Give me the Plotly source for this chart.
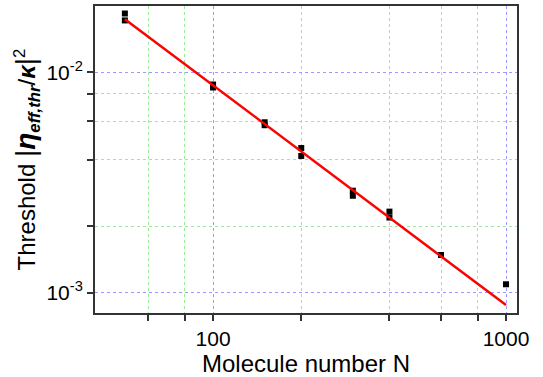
import plotly.graph_objects as go

# Data
N = [50, 50, 100, 100, 150, 150, 200, 200, 300, 300, 400, 400, 600, 1000]
threshold = [0.01849, 0.01720, 0.00880, 0.00853, 0.00593, 0.00575,
             0.00453, 0.00417, 0.00290, 0.00275, 0.00233, 0.00219,
             0.00148, 0.00109]
fit_N = [50, 1000]
fit_threshold = [0.01742, 0.000877]

x_major = [100, 1000]
x_major_text = ["100", "1000"]
x_minor = [60, 80, 200, 400, 600, 800]
y_major = [1e-3, 1e-2]
y_major_text = ["10<sup>-3</sup>", "10<sup>-2</sup>"]
y_minor = [2e-3, 4e-3, 6e-3, 8e-3]

fig = go.Figure()
fig.add_trace(go.Scatter(x=N, y=threshold, mode="markers",
                         marker=dict(symbol="square", size=6, color="black"),
                         showlegend=False))
fig.add_trace(go.Scatter(x=fit_N, y=fit_threshold, mode="lines",
                         line=dict(color="#ff0000", width=2.5),
                         showlegend=False))

axis_common = dict(showline=True, linecolor="#333333", linewidth=2, mirror=True,
                   ticks="outside", ticklen=6, tickwidth=1.5, tickcolor="#333333",
                   showgrid=True, gridcolor="#9a9aff", griddash="dot", gridwidth=1,
                   zeroline=False,
                   tickfont=dict(family="Liberation Sans, Arial", size=21, color="black"))

minor_common = dict(ticks="outside", ticklen=6, tickwidth=1.5, tickcolor="#333333",
                    showgrid=True, gridcolor="#9ee89e", griddash="dot", gridwidth=1)

fig.update_xaxes(type="log", range=[1.597, 3.0375],
                 tickmode="array", tickvals=x_major, ticktext=x_major_text,
                 minor=dict(tickmode="array", tickvals=x_minor, **minor_common),
                 title=dict(text="Molecule number N", standoff=4,
                            font=dict(family="Liberation Sans, Arial", size=24, color="black")),
                 **axis_common)

y_title = ("Threshold <span style='font-size:28px'>|</span>"
           "<span style='font-size:28px'><b><i>η</i></b></span>"
           "<sub><b><i>eff,thr</i></b></sub>/<b><i>κ</i></b>"
           "<span style='font-size:28px'>|</span><sup>2</sup>")

fig.update_yaxes(type="log", range=[-3.093, -1.699],
                 tickmode="array", tickvals=y_major, ticktext=y_major_text,
                 minor=dict(tickmode="array", tickvals=y_minor, **minor_common),
                 title=dict(text=y_title, standoff=4,
                            font=dict(family="Liberation Sans, Arial", size=24, color="black")),
                 **axis_common)

fig.update_layout(width=543, height=377, margin=dict(l=95, r=26, t=4, b=64),
                  plot_bgcolor="white", paper_bgcolor="white")

fig.write_html("out.html")
